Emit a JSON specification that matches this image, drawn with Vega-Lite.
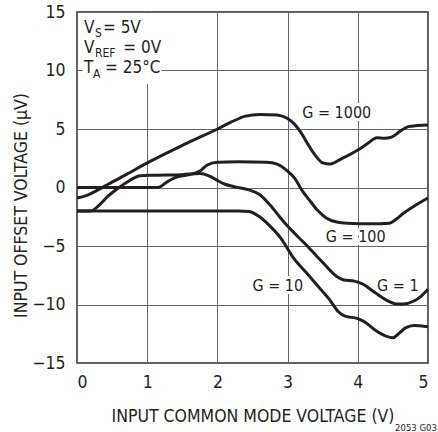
{
  "$schema": "https://vega.github.io/schema/vega-lite/v6.json",
  "width": 351,
  "height": 351,
  "autosize": {"type": "none"},
  "padding": {"left": 77, "top": 12, "right": 10, "bottom": 69},
  "background": "white",
  "config": {
    "font": "DejaVu Sans Condensed, Liberation Sans Narrow, Liberation Sans, sans-serif",
    "view": {"stroke": "#2a2a2a", "strokeWidth": 1.5},
    "axis": {
      "grid": true, "gridColor": "#666666", "gridWidth": 1, "gridOpacity": 1,
      "domain": false, "ticks": false,
      "labelFont": "DejaVu Sans Condensed, Liberation Sans Narrow, Liberation Sans, sans-serif", "labelFontSize": 17.5, "labelColor": "#231f20",
      "titleFont": "DejaVu Sans Condensed, Liberation Sans Narrow, Liberation Sans, sans-serif", "titleFontSize": 17.5, "titleFontWeight": "normal", "titleColor": "#231f20"
    }
  },
  "title": {"text": "2053 G03", "orient": "bottom", "anchor": "end", "fontSize": 9.5, "fontWeight": "normal", "font": "DejaVu Sans Condensed, Liberation Sans Narrow, Liberation Sans, sans-serif", "color": "#231f20", "dx": 3, "offset": -2},
  "datasets": {
    "curves": [
      {"g": "1000", "x": 0, "y": -0.9}, {"g": "1000", "x": 0.15, "y": -0.65}, {"g": "1000", "x": 0.3, "y": -0.2}, {"g": "1000", "x": 0.45, "y": 0.3},
      {"g": "1000", "x": 0.7, "y": 1.1}, {"g": "1000", "x": 1.0, "y": 2.1}, {"g": "1000", "x": 1.5, "y": 3.6}, {"g": "1000", "x": 2.0, "y": 5.0},
      {"g": "1000", "x": 2.2, "y": 5.6}, {"g": "1000", "x": 2.4, "y": 6.1}, {"g": "1000", "x": 2.6, "y": 6.25}, {"g": "1000", "x": 2.85, "y": 6.2},
      {"g": "1000", "x": 3.0, "y": 5.9}, {"g": "1000", "x": 3.1, "y": 5.4}, {"g": "1000", "x": 3.2, "y": 4.6}, {"g": "1000", "x": 3.3, "y": 3.6},
      {"g": "1000", "x": 3.4, "y": 2.7}, {"g": "1000", "x": 3.5, "y": 2.1}, {"g": "1000", "x": 3.6, "y": 2.0}, {"g": "1000", "x": 3.75, "y": 2.4},
      {"g": "1000", "x": 4.0, "y": 3.2}, {"g": "1000", "x": 4.15, "y": 3.8}, {"g": "1000", "x": 4.27, "y": 4.25}, {"g": "1000", "x": 4.38, "y": 4.2},
      {"g": "1000", "x": 4.48, "y": 4.3}, {"g": "1000", "x": 4.6, "y": 4.8}, {"g": "1000", "x": 4.72, "y": 5.2}, {"g": "1000", "x": 4.85, "y": 5.3},
      {"g": "1000", "x": 5.0, "y": 5.35},

      {"g": "100", "x": 0, "y": 0}, {"g": "100", "x": 0.5, "y": 0}, {"g": "100", "x": 1.05, "y": 0}, {"g": "100", "x": 1.15, "y": 0.0},
      {"g": "100", "x": 1.3, "y": 0.55}, {"g": "100", "x": 1.45, "y": 0.95}, {"g": "100", "x": 1.6, "y": 1.1}, {"g": "100", "x": 1.75, "y": 1.4},
      {"g": "100", "x": 1.85, "y": 1.9}, {"g": "100", "x": 2.0, "y": 2.15}, {"g": "100", "x": 2.3, "y": 2.2}, {"g": "100", "x": 2.7, "y": 2.15},
      {"g": "100", "x": 2.85, "y": 2.0}, {"g": "100", "x": 3.0, "y": 1.4}, {"g": "100", "x": 3.1, "y": 0.8}, {"g": "100", "x": 3.2, "y": -0.2},
      {"g": "100", "x": 3.3, "y": -1.0}, {"g": "100", "x": 3.42, "y": -1.9}, {"g": "100", "x": 3.55, "y": -2.6}, {"g": "100", "x": 3.7, "y": -2.95},
      {"g": "100", "x": 3.85, "y": -3.05}, {"g": "100", "x": 4.2, "y": -3.1}, {"g": "100", "x": 4.45, "y": -3.05}, {"g": "100", "x": 4.55, "y": -2.7},
      {"g": "100", "x": 4.65, "y": -2.2}, {"g": "100", "x": 4.8, "y": -1.6}, {"g": "100", "x": 5.0, "y": -0.9},

      {"g": "1", "x": 0, "y": -2}, {"g": "1", "x": 0.2, "y": -2}, {"g": "1", "x": 0.3, "y": -1.6}, {"g": "1", "x": 0.45, "y": -0.7},
      {"g": "1", "x": 0.6, "y": 0}, {"g": "1", "x": 0.75, "y": 0.6}, {"g": "1", "x": 0.9, "y": 1.0}, {"g": "1", "x": 1.1, "y": 1.05},
      {"g": "1", "x": 1.5, "y": 1.1}, {"g": "1", "x": 1.75, "y": 1.2}, {"g": "1", "x": 1.88, "y": 1.0}, {"g": "1", "x": 2.0, "y": 0.6},
      {"g": "1", "x": 2.1, "y": 0.3}, {"g": "1", "x": 2.25, "y": 0.05}, {"g": "1", "x": 2.45, "y": -0.2}, {"g": "1", "x": 2.6, "y": -0.6},
      {"g": "1", "x": 2.75, "y": -1.5}, {"g": "1", "x": 2.9, "y": -2.6}, {"g": "1", "x": 3.0, "y": -3.3}, {"g": "1", "x": 3.28, "y": -5.0},
      {"g": "1", "x": 3.5, "y": -6.4}, {"g": "1", "x": 3.7, "y": -7.6}, {"g": "1", "x": 3.8, "y": -7.9}, {"g": "1", "x": 3.95, "y": -8.0},
      {"g": "1", "x": 4.05, "y": -8.2}, {"g": "1", "x": 4.25, "y": -9.0}, {"g": "1", "x": 4.4, "y": -9.6}, {"g": "1", "x": 4.55, "y": -9.95},
      {"g": "1", "x": 4.65, "y": -9.95}, {"g": "1", "x": 4.8, "y": -9.7}, {"g": "1", "x": 4.9, "y": -9.3}, {"g": "1", "x": 5.0, "y": -8.7},

      {"g": "10", "x": 0, "y": -2}, {"g": "10", "x": 0.5, "y": -2}, {"g": "10", "x": 1.0, "y": -2}, {"g": "10", "x": 1.5, "y": -2},
      {"g": "10", "x": 2.0, "y": -2}, {"g": "10", "x": 2.3, "y": -2.0}, {"g": "10", "x": 2.45, "y": -2.05}, {"g": "10", "x": 2.6, "y": -2.5},
      {"g": "10", "x": 2.75, "y": -3.3}, {"g": "10", "x": 2.9, "y": -4.3}, {"g": "10", "x": 3.08, "y": -6.0}, {"g": "10", "x": 3.3, "y": -7.5},
      {"g": "10", "x": 3.5, "y": -8.9}, {"g": "10", "x": 3.6, "y": -9.6}, {"g": "10", "x": 3.72, "y": -10.6}, {"g": "10", "x": 3.82, "y": -11.0},
      {"g": "10", "x": 4.0, "y": -11.2}, {"g": "10", "x": 4.1, "y": -11.5}, {"g": "10", "x": 4.25, "y": -12.2}, {"g": "10", "x": 4.4, "y": -12.7},
      {"g": "10", "x": 4.5, "y": -12.85}, {"g": "10", "x": 4.58, "y": -12.5}, {"g": "10", "x": 4.68, "y": -12.0}, {"g": "10", "x": 4.8, "y": -11.8},
      {"g": "10", "x": 5.0, "y": -11.9}
    ],
    "box": [{"x1": 0.08, "x2": 1.2, "y1": 8.85, "y2": 14.9}],
    "mainText": [
      {"x": 0.10, "y": 13.23, "t": "V"}, {"x": 0.37, "y": 13.23, "t": "= 5V"},
      {"x": 0.10, "y": 11.47, "t": "V"}, {"x": 0.66, "y": 11.47, "t": "= 0V"},
      {"x": 0.10, "y": 9.76, "t": "T"}, {"x": 0.40, "y": 9.76, "t": "= 25°C"}
    ],
    "subText": [
      {"x": 0.256, "y": 12.89, "t": "S"}, {"x": 0.256, "y": 11.18, "t": "REF"}, {"x": 0.228, "y": 9.33, "t": "A"}
    ],
    "labels": [
      {"x": 3.7, "y": 6.37, "t": "G = 1000"}, {"x": 3.97, "y": -4.23, "t": "G = 100"},
      {"x": 2.86, "y": -8.42, "t": "G = 10"}, {"x": 4.57, "y": -8.42, "t": "G = 1"}
    ]
  },
  "layer": [
    {
      "data": {"name": "curves"},
      "mark": {"type": "line", "interpolate": "monotone", "color": "#231f20", "strokeWidth": 3},
      "encoding": {
        "x": {"field": "x", "type": "quantitative", "scale": {"domain": [0, 5], "nice": false, "zero": false},
              "axis": {"title": "INPUT COMMON MODE VOLTAGE (V)", "values": [0, 1, 2, 3, 4, 5], "format": "d", "labelPadding": 10, "titlePadding": 17}},
        "y": {"field": "y", "type": "quantitative", "scale": {"domain": [-15, 15], "nice": false, "zero": false},
              "axis": {"title": "INPUT OFFSET VOLTAGE (μV)", "values": [-15, -10, -5, 0, 5, 10, 15], "format": "d", "labelPadding": 12,
                       "titleX": -56, "titleY": 193, "titleAngle": -90, "titleAlign": "center", "titleBaseline": "middle"}},
        "detail": {"field": "g", "type": "nominal"}
      }
    },
    {
      "data": {"name": "box"},
      "mark": {"type": "rect", "color": "white"},
      "encoding": {
        "x": {"field": "x1", "type": "quantitative"}, "x2": {"field": "x2"},
        "y": {"field": "y1", "type": "quantitative"}, "y2": {"field": "y2"}
      }
    },
    {
      "data": {"name": "mainText"},
      "mark": {"type": "text", "align": "left", "baseline": "alphabetic", "fontSize": 17, "color": "#231f20"},
      "encoding": {"x": {"field": "x", "type": "quantitative"}, "y": {"field": "y", "type": "quantitative"}, "text": {"field": "t"}}
    },
    {
      "data": {"name": "subText"},
      "mark": {"type": "text", "align": "left", "baseline": "alphabetic", "fontSize": 12, "color": "#231f20"},
      "encoding": {"x": {"field": "x", "type": "quantitative"}, "y": {"field": "y", "type": "quantitative"}, "text": {"field": "t"}}
    },
    {
      "data": {"name": "labels"},
      "mark": {"type": "text", "align": "center", "baseline": "middle", "fontSize": 16, "color": "white", "stroke": "white", "strokeWidth": 6},
      "encoding": {"x": {"field": "x", "type": "quantitative"}, "y": {"field": "y", "type": "quantitative"}, "text": {"field": "t"}}
    },
    {
      "data": {"name": "labels"},
      "mark": {"type": "text", "align": "center", "baseline": "middle", "fontSize": 16, "color": "#231f20"},
      "encoding": {"x": {"field": "x", "type": "quantitative"}, "y": {"field": "y", "type": "quantitative"}, "text": {"field": "t"}}
    }
  ]
}
